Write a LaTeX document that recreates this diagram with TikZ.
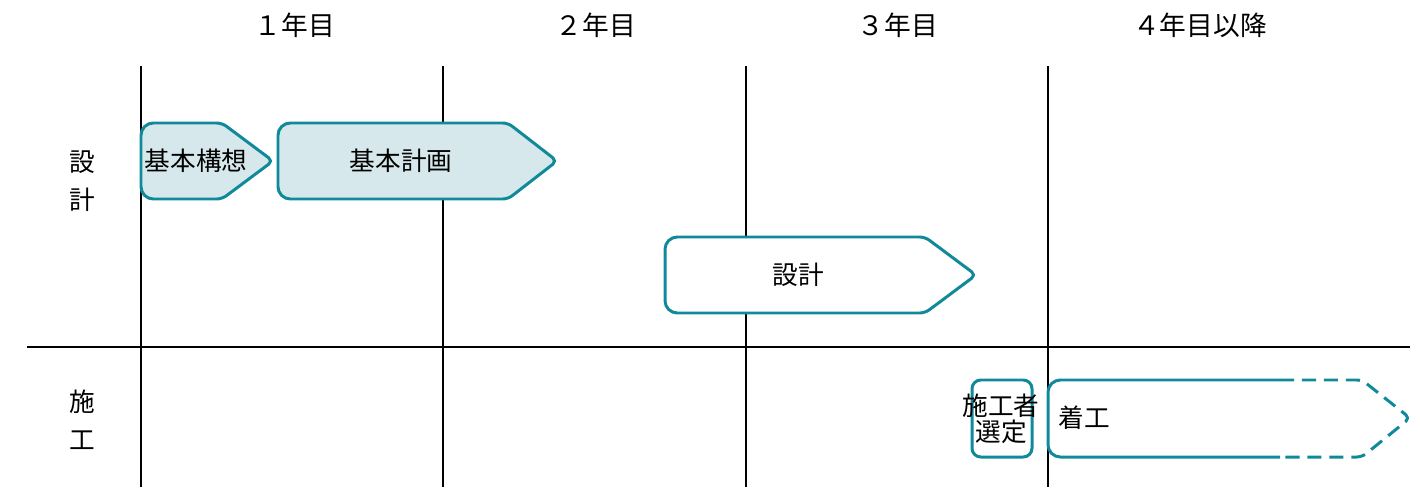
\documentclass[tikz,border=0pt]{standalone}
\usepackage{fontspec}
\setmainfont{Noto Sans CJK JP}
\definecolor{phaseline}{RGB}{16,138,154}
\definecolor{phasefill}{RGB}{214,232,235}
\tikzset{
  phase/.style={draw=phaseline, line width=1.7pt, line join=round},
  phasetext/.style={font=\fontsize{14.6}{17}\selectfont, inner sep=0pt},
  yeartext/.style={font=\fontsize{15.2}{18}\selectfont, inner sep=0pt},
  yearline/.style={draw=black, line width=0.6pt}
}
\begin{document}
\begin{tikzpicture}[x=0.02cm, y=-0.02cm]
    \useasboundingbox (0,0) rectangle (1420,487);

    % Year headings
    \node[yeartext] (y1) at (295,25) {１年目};
    \node[yeartext] (y2) at (596,25) {２年目};
    \node[yeartext] (y3) at (898,25) {３年目};
    \node[yeartext] (y4) at (1200,25) {４年目以降};

    % Row headings
    \node[phasetext] (sekkeiA) at (82,162) {設};
    \node[phasetext] (sekkeiB) at (82,200) {計};
    \node[phasetext] (sekouA) at (82,402) {施};
    \node[phasetext] (sekouB) at (82,440) {工};

    % Grid lines
    \foreach \x in {141,443,746,1048}
        \draw[yearline] (\x,66) -- (\x,487);
    \draw[yearline] (27,347) -- (1410,347);

    % Design phases
    \draw[phase, fill=phasefill] (141,161) [rounded corners=7pt] -- (141,123)
        [rounded corners=3pt] -- (222,123) -- (273,161) -- (222,199)
        [rounded corners=7pt] -- (141,199) -- cycle;
    \node[phasetext] (kousou) at (196,161) {基本構想};

    \draw[phase, fill=phasefill] (278,161) [rounded corners=7pt] -- (278,123)
        [rounded corners=3pt] -- (508,123) -- (557,161) -- (508,199)
        [rounded corners=7pt] -- (278,199) -- cycle;
    \node[phasetext] (keikaku) at (401,161) {基本計画};

    \draw[phase, fill=white] (665,275) [rounded corners=7pt] -- (665,237)
        [rounded corners=3pt] -- (925,237) -- (976,275) -- (925,313)
        [rounded corners=7pt] -- (665,313) -- cycle;
    \node[phasetext] (sekkei) at (798,275) {設計};

    % Construction phases
    \draw[phase, fill=white, rounded corners=5pt] (972,380) rectangle (1032,457);
    \node[phasetext, align=center, font=\fontsize{14.6}{15}\selectfont] (sentei) at (1001,419) {施工者\\選定};

    \draw[phase, rounded corners=7pt] (1280,380) -- (1048,380) -- (1048,457) -- (1280,457);
    \draw[phase, dash pattern=on 8pt off 4.5pt] (1280,380)
        [rounded corners=3pt] -- (1362,380) -- (1410,418) -- (1362,457) -- (1280,457);
    \node[phasetext] (chakkou) at (1084,418) {着工};
\end{tikzpicture}
\end{document}
